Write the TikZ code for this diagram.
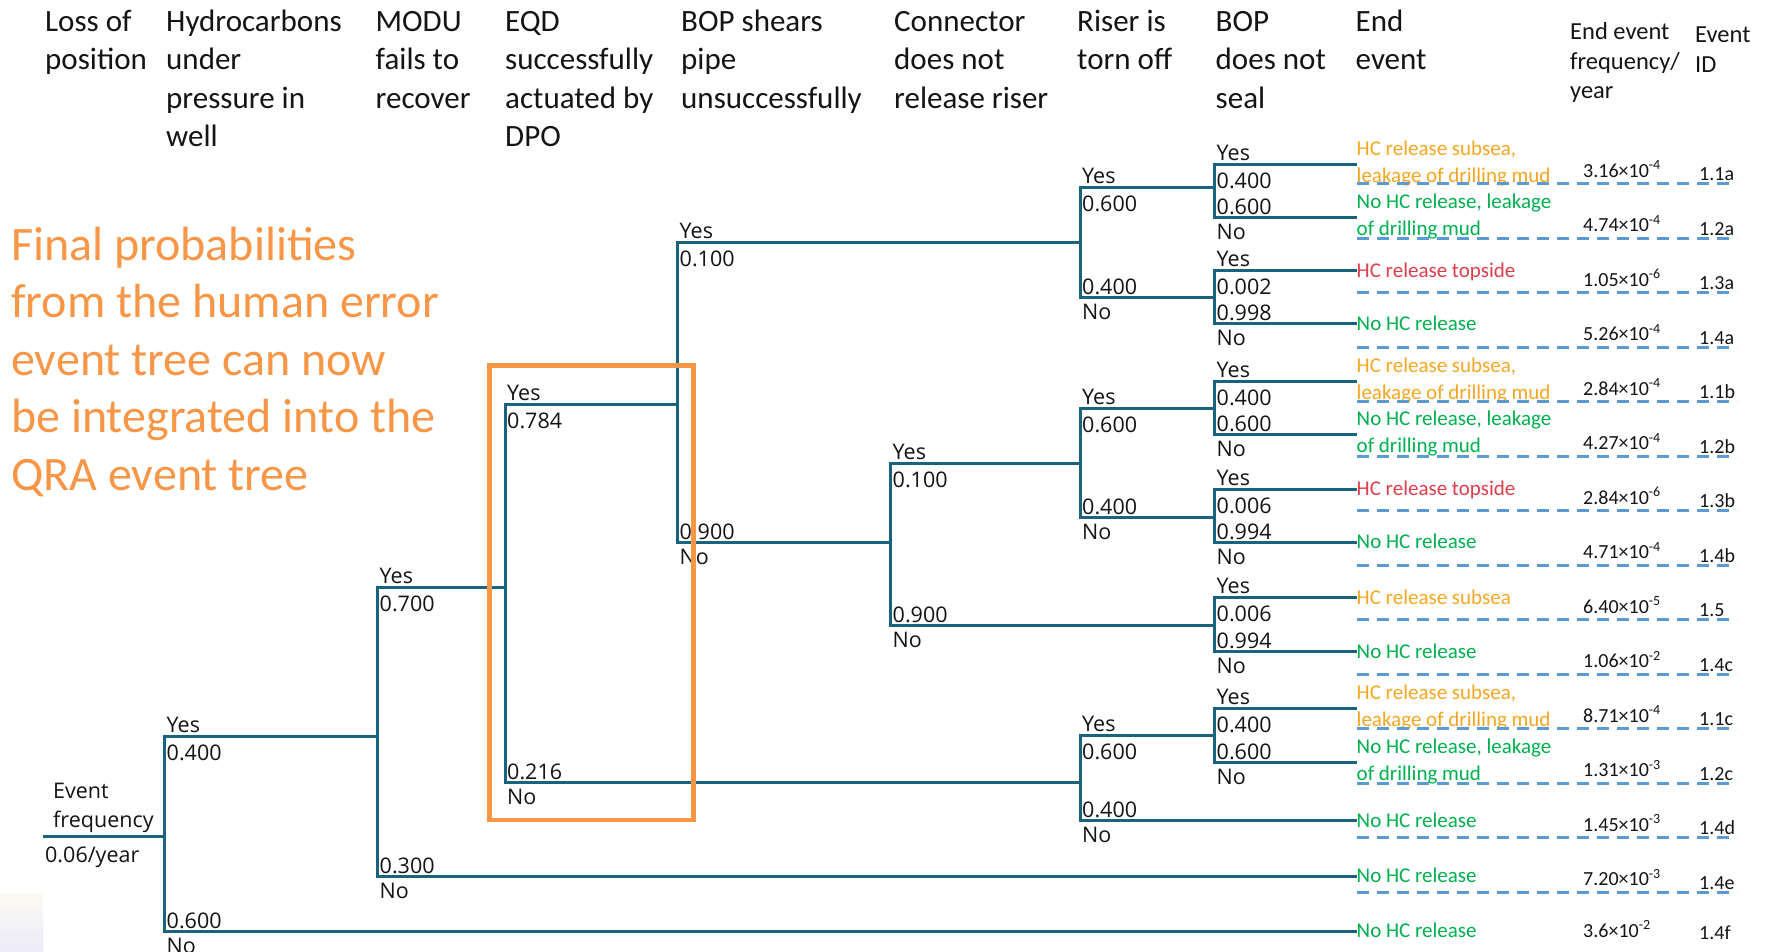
\documentclass[tikz,border=0pt]{standalone}
\usepackage{fontspec}
\setmainfont{Carlito}
\newfontfamily\labelfont{Open Sans}

\definecolor{treeteal}{RGB}{25,99,125}
\definecolor{noteorange}{RGB}{247,150,70}
\definecolor{sepblue}{RGB}{91,155,213}
\definecolor{subseaorange}{RGB}{245,166,35}
\definecolor{safegreen}{RGB}{0,176,80}
\definecolor{topsidered}{RGB}{220,62,76}
\definecolor{inkblack}{RGB}{20,20,20}

% one column heading, one node per line
\newcommand\headcol[3]{%
  \foreach \txt [count=\k] in {#3}
    {\node[hdr] (#1-\k) at (#2,{31.5+38.3*(\k-1)}) {\txt};}}

% a Yes/No fork: name, x, y of Yes branch, y of No branch, p(Yes), p(No)
\newcommand\eventfork[6]{%
  \coordinate (#1-y) at (#2,#3);
  \coordinate (#1-n) at (#2,#4);
  \draw[branch] (#1-y) -- (#1-n);
  \node[plab] (#1-ly) at ([shift={(2,-4)}]#1-y) {Yes};
  \node[plab] (#1-py) at ([shift={(2,24)}]#1-y) {#5};
  \node[plab] (#1-pn) at ([shift={(2,-3)}]#1-n) {#6};
  \node[plab] (#1-ln) at ([shift={(2,22)}]#1-n) {No};}

% end of a branch with a one-line outcome: name, branch point, colour, text
\newcommand\outcome[4]{%
  \coordinate (#1) at (#2 -| endcol);
  \draw[branch] (#2) -- (#1);
  \node[endtxt,text=#3] (#1-t) at ([shift={(1,6.5)}]#1) {#4};}

% end of a branch with a two-line outcome
\newcommand\outcometwo[5]{%
  \coordinate (#1) at (#2 -| endcol);
  \draw[branch] (#2) -- (#1);
  \node[endtxt,text=#3] (#1-t) at ([shift={(1,-9)}]#1) {#4};
  \node[endtxt,text=#3] (#1-u) at ([shift={(1,18)}]#1) {#5};}

\begin{document}
\begin{tikzpicture}[x=1pt,y=-1pt,
  hdr/.style={anchor=base west,inner sep=0pt,text=inkblack,font=\fontsize{31}{37}\selectfont},
  hdrsmall/.style={anchor=base west,inner sep=0pt,text=inkblack,font=\fontsize{24.5}{29.5}\selectfont},
  note/.style={anchor=base west,inner sep=0pt,text=noteorange,font=\fontsize{48}{57.5}\selectfont},
  branch/.style={draw=treeteal,line width=3pt,line cap=rect},
  plab/.style={anchor=base west,inner sep=0pt,text=inkblack,font=\labelfont\fontsize{21.5}{26}\selectfont},
  endtxt/.style={anchor=base west,inner sep=0pt,font=\fontsize{21}{27}\selectfont},
  freq/.style={anchor=base west,inner sep=0pt,text=inkblack,font=\fontsize{20}{24}\selectfont},
  sep/.style={draw=sepblue,line width=3pt,dash pattern=on 12pt off 8pt},
  focus/.style={draw=noteorange,line width=4.5pt}]

\useasboundingbox (0,0) rectangle (1768,952);
\fill[white] (0,0) rectangle (1768,952);
\shade[top color={rgb,255:red,251;green,250;blue,242},bottom color={rgb,255:red,236;green,234;blue,248}]
  (0,893) rectangle (43,952);

% column headings
\headcol{hA}{45}{Loss of,position}
\headcol{hB}{166}{Hydrocarbons,under,pressure in,well}
\headcol{hC}{375.5}{MODU,fails to,recover}
\headcol{hD}{505}{EQD,successfully,actuated by,DPO}
\headcol{hE}{681}{BOP shears,pipe,unsuccessfully}
\headcol{hF}{894}{Connector,does not,release riser}
\headcol{hG}{1077}{Riser is,torn off}
\headcol{hH}{1215.5}{BOP,does not,seal}
\headcol{hI}{1355.5}{End,event}
\foreach \txt [count=\k] in {End event,frequency/,year}
  {\node[hdrsmall] (hJ-\k) at (1570,{40+29.5*(\k-1)}) {\txt};}
\foreach \txt [count=\k] in {Event,ID}
  {\node[hdrsmall] (hK-\k) at (1695,{43+29.5*(\k-1)}) {\txt};}

% side note
\foreach \txt [count=\k] in {Final probabilities,from the human error,event tree can now,be integrated into the,QRA event tree}
  {\node[note] (note-\k) at (11,{260+57.5*(\k-1)}) {\txt};}

% initiating event
\coordinate (root) at (44.5,836.7);
\node[plab] (ev-1) at (53,798) {Event};
\node[plab] (ev-2) at (53,827) {frequency};
\node[plab] (ev-3) at (45,862) {0.06/year};
\coordinate (endcol) at (1355.5,0);

% forks
\eventfork{n1}{164.5}{736.3}{931.4}{0.400}{0.600}
\eventfork{n2}{377.5}{587.5}{876.1}{0.700}{0.300}
\eventfork{n3}{505}{404.8}{782.6}{0.784}{0.216}
\eventfork{n4}{677.5}{242.4}{542.4}{0.100}{0.900}
\eventfork{n5}{890.5}{463.4}{625.8}{0.100}{0.900}
\eventfork{r1}{1080}{187.2}{297.7}{0.600}{0.400}
\eventfork{r2}{1080}{408.2}{517.6}{0.600}{0.400}
\eventfork{r3}{1080}{735.2}{820.9}{0.600}{0.400}
\eventfork{b1}{1214.5}{164.6}{217.6}{0.400}{0.600}
\eventfork{b2}{1214.5}{270.6}{323.6}{0.002}{0.998}
\eventfork{b3}{1214.5}{381.1}{434.1}{0.400}{0.600}
\eventfork{b4}{1214.5}{489.4}{542.4}{0.006}{0.994}
\eventfork{b5}{1214.5}{597.6}{651.8}{0.006}{0.994}
\eventfork{b6}{1214.5}{708.1}{762.3}{0.400}{0.600}

% branches between forks
\draw[branch] (root) -- (root -| n1-y);
\draw[branch] (n1-y) -- (n1-y -| n2-y);
\draw[branch] (n2-y) -- (n2-y -| n3-y);
\draw[branch] (n3-y) -- (n3-y -| n4-y);
\draw[branch] (n3-n) -- (n3-n -| r3-y);
\draw[branch] (n4-y) -- (n4-y -| r1-y);
\draw[branch] (n4-n) -- (n4-n -| n5-y);
\draw[branch] (n5-y) -- (n5-y -| r2-y);
\draw[branch] (n5-n) -- (n5-n -| b5-y);
\draw[branch] (r1-y) -- (r1-y -| b1-y);
\draw[branch] (r1-n) -- (r1-n -| b2-y);
\draw[branch] (r2-y) -- (r2-y -| b3-y);
\draw[branch] (r2-n) -- (r2-n -| b4-y);
\draw[branch] (r3-y) -- (r3-y -| b6-y);

% end events
\outcometwo{e1}{b1-y}{subseaorange}{HC release subsea,}{leakage of drilling mud}
\outcometwo{e2}{b1-n}{safegreen}{No HC release, leakage}{of drilling mud}
\outcome{e3}{b2-y}{topsidered}{HC release topside}
\outcome{e4}{b2-n}{safegreen}{No HC release}
\outcometwo{e5}{b3-y}{subseaorange}{HC release subsea,}{leakage of drilling mud}
\outcometwo{e6}{b3-n}{safegreen}{No HC release, leakage}{of drilling mud}
\outcome{e7}{b4-y}{topsidered}{HC release topside}
\outcome{e8}{b4-n}{safegreen}{No HC release}
\outcome{e9}{b5-y}{subseaorange}{HC release subsea}
\outcome{e10}{b5-n}{safegreen}{No HC release}
\outcometwo{e11}{b6-y}{subseaorange}{HC release subsea,}{leakage of drilling mud}
\outcometwo{e12}{b6-n}{safegreen}{No HC release, leakage}{of drilling mud}
\outcome{e13}{r3-n}{safegreen}{No HC release}
\outcome{e14}{n2-n}{safegreen}{No HC release}
\outcome{e15}{n1-n}{safegreen}{No HC release}

% frequencies, identifiers and row separators
\foreach \d/\f/\e/\i [count=\k] in {
  183.8/3.16/-4/1.1a, 238.3/4.74/-4/1.2a, 292.8/1.05/-6/1.3a, 347.3/5.26/-4/1.4a,
  401.8/2.84/-4/1.1b, 456.3/4.27/-4/1.2b, 510.8/2.84/-6/1.3b, 565.3/4.71/-4/1.4b,
  619.8/6.40/-5/1.5, 674.3/1.06/-2/1.4c, 728.8/8.71/-4/1.1c, 783.3/1.31/-3/1.2c,
  837.8/1.45/-3/1.4d, 892.3/7.20/-3/1.4e}
{
  \node[freq] (fq-\k) at (1583,{\d-6.5}) {\f×10\textsuperscript{\e}};
  \node[freq] (id-\k) at (1699,{\d-3}) {\i};
  \draw[sep] (1357,\d) -- (1737,\d);
}
\node[freq] (fq-15) at (1583,937) {3.6×10\textsuperscript{-2}};
\node[freq] (id-15) at (1699,939) {1.4f};

% highlighted EQD step
\draw[focus] (489.5,365.5) rectangle (693.5,820);

\end{tikzpicture}
\end{document}
